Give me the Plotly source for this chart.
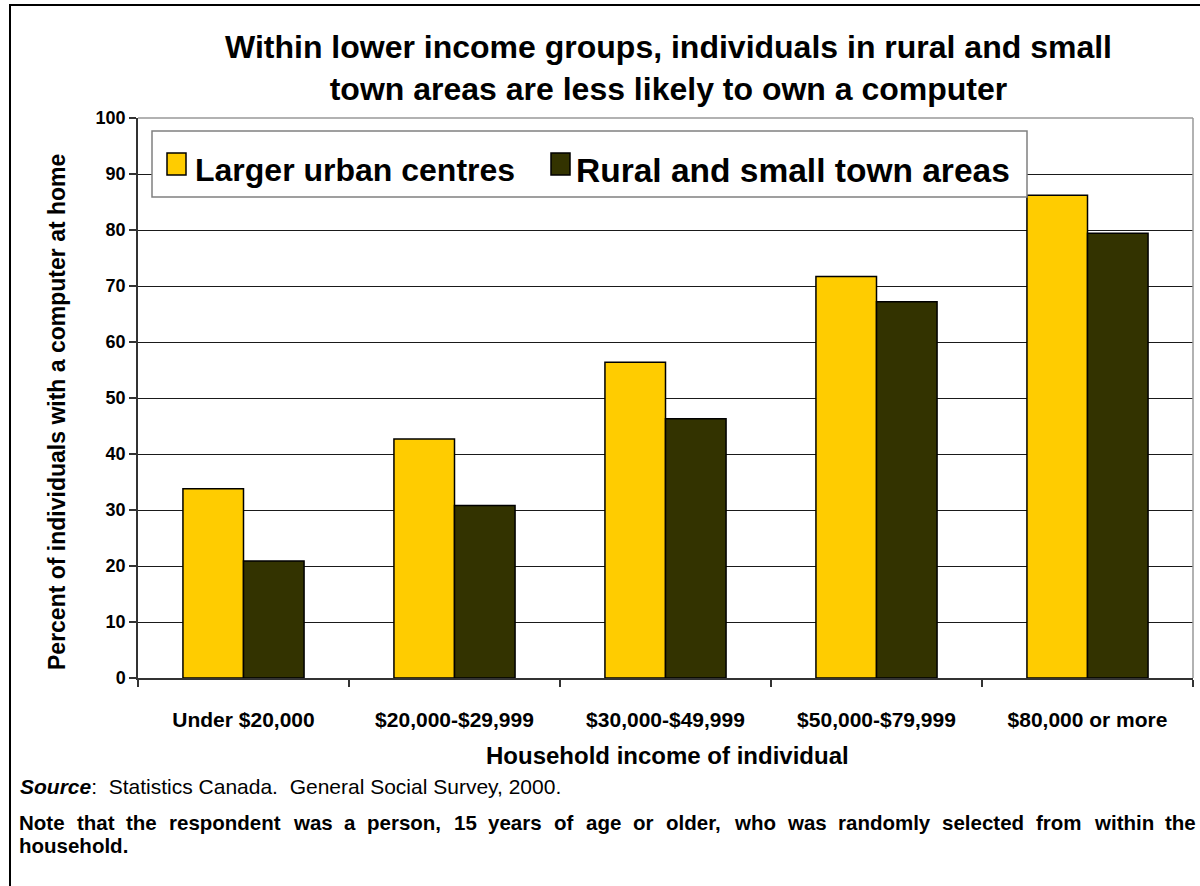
import plotly.graph_objects as go

# Household income groups and share of individuals with a home computer (%)
income_groups = ["Under $20,000", "$20,000-$29,999", "$30,000-$49,999",
                 "$50,000-$79,999", "$80,000 or more"]
series_names = ["Larger urban centres", "Rural and small town areas"]
urban_pct = [33.8, 42.7, 56.4, 71.7, 86.2]
rural_pct = [20.9, 30.8, 46.3, 67.2, 79.4]
y_ticks = [0, 10, 20, 30, 40, 50, 60, 70, 80, 90, 100]

title_text = ("Within lower income groups, individuals in rural and small<br>"
              "town areas are less likely to own a computer")
x_title = "Household income of individual"
y_title = "Percent of individuals with a computer at home"
source_text = "<b><i>Source</i></b>:  Statistics Canada.  General Social Survey, 2000."
note_line1 = ("Note that the respondent was a person, 15 years of age or older, "
              "who was randomly selected from within the")
note_line2 = "household."

FONT = "Liberation Sans, Arial, sans-serif"
URBAN_COLOR = "#FFCC00"
RURAL_COLOR = "#333300"

W, H = 1200, 886
PL, PR, PT, PB = 138, 1193, 118, 678  # plot area in pixels


def fx(x):
    return (x - PL) / (PR - PL)


def fy(y):
    return (PB - y) / (PB - PT)


# Arial/Liberation Sans Bold advance widths (1/1000 em) for justified note text
BOLD_W = {" ": 278, ",": 278, ".": 278, "N": 722, "T": 611,
          "a": 556, "b": 611, "c": 556, "d": 611, "e": 556, "f": 333, "g": 611,
          "h": 611, "i": 278, "j": 278, "k": 556, "l": 278, "m": 889, "n": 611,
          "o": 611, "p": 611, "q": 611, "r": 389, "s": 556, "t": 333, "u": 611,
          "v": 556, "w": 778, "x": 556, "y": 556, "z": 500}


def text_width(s, size):
    return sum(BOLD_W.get(ch, 556) for ch in s) * size / 1000.0


fig = go.Figure()
fig.add_trace(go.Bar(x=income_groups, y=urban_pct, name=series_names[0],
                     marker=dict(color=URBAN_COLOR, line=dict(color="#000", width=1.5))))
fig.add_trace(go.Bar(x=income_groups, y=rural_pct, name=series_names[1],
                     marker=dict(color=RURAL_COLOR, line=dict(color="#000", width=1.5))))

shapes = []
# outer frame around the whole chart
shapes.append(dict(type="rect", xref="paper", yref="paper",
                   x0=fx(10), x1=fx(1230), y0=fy(5), y1=fy(920),
                   line=dict(color="#000", width=2), fillcolor="rgba(0,0,0,0)", layer="below"))
# plot area border (top and right)
shapes.append(dict(type="line", xref="paper", yref="paper", x0=0, x1=1, y0=1, y1=1,
                   line=dict(color="#999", width=1.5)))
shapes.append(dict(type="line", xref="paper", yref="paper", x0=1, x1=1, y0=0, y1=1,
                   line=dict(color="#999", width=1.5)))
# legend box and swatches
shapes.append(dict(type="rect", xref="paper", yref="paper",
                   x0=fx(152), x1=fx(1027), y0=fy(197), y1=fy(131),
                   line=dict(color="#808080", width=1.5), fillcolor="white"))
shapes.append(dict(type="rect", xref="paper", yref="paper",
                   x0=fx(167), x1=fx(186), y0=fy(175), y1=fy(153),
                   line=dict(color="#000", width=1.5), fillcolor=URBAN_COLOR))
shapes.append(dict(type="rect", xref="paper", yref="paper",
                   x0=fx(551), x1=fx(570), y0=fy(175), y1=fy(153),
                   line=dict(color="#000", width=1.5), fillcolor=RURAL_COLOR))

NOTE_SIZE = 20.5
annotations = [
    dict(text=f"<b>{title_text}</b>", x=fx(668), y=fy(68), xref="paper", yref="paper",
         xanchor="center", yanchor="middle", showarrow=False,
         font=dict(family=FONT, size=32, color="#000")),
    dict(text=f"<b>{series_names[0]}</b>", x=fx(193), y=fy(170), xref="paper", yref="paper",
         xanchor="left", yanchor="middle", showarrow=False,
         font=dict(family=FONT, size=32, color="#000")),
    dict(text=f"<b>{series_names[1]}</b>", x=fx(574), y=fy(170), xref="paper", yref="paper",
         xanchor="left", yanchor="middle", showarrow=False,
         font=dict(family=FONT, size=33.5, color="#000")),
    dict(text=f"<b>{x_title}</b>", x=fx(667), y=fy(755), xref="paper", yref="paper",
         xanchor="center", yanchor="middle", showarrow=False,
         font=dict(family=FONT, size=24, color="#000")),
    dict(text=f"<b>{y_title}</b>", x=fx(57), y=fy(412), xref="paper", yref="paper",
         xanchor="center", yanchor="middle", showarrow=False, textangle=-90,
         font=dict(family=FONT, size=23, color="#000")),
    dict(text=source_text, x=fx(18), y=fy(786), xref="paper", yref="paper",
         xanchor="left", yanchor="middle", showarrow=False,
         font=dict(family=FONT, size=21, color="#000")),
    dict(text=f"<b>{note_line2}</b>", x=fx(19), y=fy(845), xref="paper", yref="paper",
         xanchor="left", yanchor="middle", showarrow=False, borderpad=0, borderwidth=0,
         font=dict(family=FONT, size=NOTE_SIZE, color="#000")),
]

# first note line, justified between the left and right text margins
note_left, note_right = 19, 1196
words = note_line1.split(" ")
word_w = [text_width(w, NOTE_SIZE) for w in words]
gap = (note_right - note_left - sum(word_w)) / (len(words) - 1)
cursor = note_left
for w, ww in zip(words, word_w):
    annotations.append(dict(text=f"<b>{w}</b>", x=fx(cursor), y=fy(822),
                            xref="paper", yref="paper", xanchor="left", yanchor="middle",
                            showarrow=False, borderpad=0, borderwidth=0,
                            font=dict(family=FONT, size=NOTE_SIZE, color="#000")))
    cursor += ww + gap

fig.update_layout(
    width=W, height=H,
    margin=dict(l=PL, r=W - PR, t=PT, b=H - PB, pad=0),
    paper_bgcolor="white", plot_bgcolor="white",
    barmode="group", bargap=0.426, bargroupgap=0,
    showlegend=False,
    font=dict(family=FONT, color="#000"),
    shapes=shapes, annotations=annotations,
)
fig.update_xaxes(
    type="category", showline=True, linecolor="#333", linewidth=1.5,
    ticks="outside", tickson="boundaries", ticklen=7, tickcolor="#333", tickwidth=1.5,
    showgrid=False, ticklabelstandoff=22,
    tickfont=dict(family=FONT, size=21, color="#000", weight="bold"),
)
fig.update_yaxes(
    range=[0, 100], tickvals=y_ticks, showline=True, linecolor="#333", linewidth=1.5,
    ticks="outside", ticklen=7, tickcolor="#333", tickwidth=1.5,
    showgrid=True, gridcolor="#1a1a1a", gridwidth=1, zeroline=False,
    tickfont=dict(family=FONT, size=18, color="#000", weight="bold"),
)

fig.write_html("out.html")
